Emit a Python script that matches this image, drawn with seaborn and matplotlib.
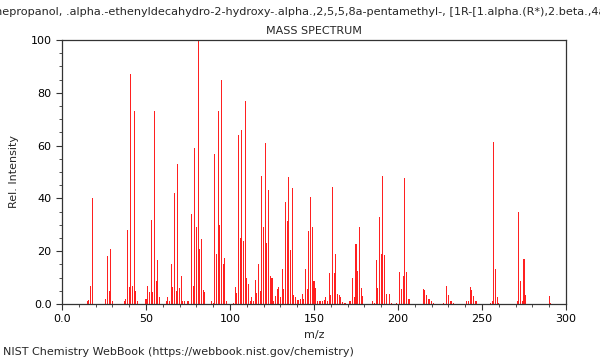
import matplotlib
matplotlib.use("Agg")
import matplotlib.pyplot as plt
from matplotlib.ticker import MultipleLocator
import pandas as pd
import seaborn as sns

# Compound name (title line, runs off both edges like the original)
compound = ("2-Naphthalenepropanol, .alpha.-ethenyldecahydro-2-hydroxy-.alpha.,2,5,5,8a-"
            "pentamethyl-, [1R-[1.alpha.(R*),2.beta.,4a.beta.,8a.alpha.]]-")

# Peaks (m/z, relative intensity)
mz = [15, 16, 17, 18,
      26, 27, 28, 29, 30,
      37, 38, 39, 40, 41, 42, 43, 44, 45,
      50, 51, 52, 53, 54, 55, 56, 57, 58,
      62, 63, 64, 65, 66, 67, 68, 69, 70, 71, 72, 73, 75,
      77, 78, 79, 80, 81, 82, 83, 84, 85,
      89, 90, 91, 92, 93, 94, 95, 96, 97, 98,
      102, 103, 104, 105, 106, 107, 108, 109, 110, 111, 112, 113, 114,
      115, 116, 117, 118, 119, 120, 121, 122, 123, 124, 125, 126, 127, 128, 129, 130,
      131, 132, 133, 134, 135, 136, 137, 138, 139, 140, 141, 142, 143, 144,
      145, 146, 147, 148, 149, 150, 151, 152, 153, 154, 155, 156, 157, 158,
      159, 160, 161, 162, 163, 164, 165, 166, 167, 168, 169,
      171, 172, 173, 174, 175, 176, 177, 178, 179,
      185, 186, 187, 188, 189, 190, 191, 192, 193, 195, 196, 199,
      201, 202, 203, 204, 205, 206, 207,
      215, 216, 217, 218, 219, 220, 221,
      227, 229, 230, 231, 232, 233,
      241, 242, 243, 244, 245, 246, 247,
      255, 256, 257, 258, 259, 260,
      271, 272, 273, 274, 275, 276,
      290, 291]
intensity = [1, 1.5, 7, 40,
             2, 18, 5, 21, 1,
             1, 2, 28, 6.6, 87, 7, 73, 5, 1,
             2, 7, 4.5, 32, 4.5, 73, 8.7, 16.7, 2.8,
             1, 2.5, 1, 15, 6.6, 42, 5, 53, 6.2, 10.5, 1, 1, 1,
             34, 7, 59, 29, 100, 21, 24.6, 5.3, 4.7,
             1, 0.5, 57, 19, 73, 30, 85, 15, 17.6, 1,
             0.5, 6.6, 4.3, 64, 25, 66, 24, 77, 9.8, 7.6, 1, 2.8, 1,
             9, 4, 15, 5, 48.6, 29, 61, 23, 43, 10.6, 10, 1, 3, 5.8, 6.6, 2.5,
             13.4, 5.8, 38.6, 31.4, 48, 20.5, 44, 3.3, 2.8, 1.5, 1.5, 2, 3.6, 2,
             13.3, 5.6, 27.8, 40.5, 29.3, 8.7, 6.2, 1, 1, 1, 1, 1.5, 2.8, 1,
             11.7, 3.3, 44.3, 11.7, 19, 3.9, 3.3, 2.5, 0.6, 0.5, 0.5,
             1, 1, 9.7, 2.5, 22.6, 12.6, 29, 6.2, 3,
             1, 0.5, 16.7, 6.2, 33, 19, 48.6, 18.5, 3.9, 3.9, 0.5, 0.5,
             12, 5.6, 10.6, 47.7, 12, 2, 2,
             5.7, 5.3, 3.5, 2, 2, 1, 0.5,
             0.5, 7, 3.5, 1, 1, 0.5,
             1, 1, 6.3, 5.3, 3, 1, 1,
             0.5, 1, 61.4, 13.4, 2.8, 0.5,
             1, 35, 8.7, 1, 17.2, 3.5,
             3, 0.5]

x_ticks = [0, 50, 100, 150, 200, 250, 300]
x_labels = ["0.0", "50", "100", "150", "200", "250", "300"]
y_ticks = [0, 20, 40, 60, 80, 100]
y_labels = ["0.0", "20", "40", "60", "80", "100"]

df = pd.DataFrame({"mz": mz, "intensity": intensity})

sns.set_style("ticks")
plt.rcParams["font.family"] = ["DejaVu Sans"]

fig, ax = plt.subplots(figsize=(6, 3.6), dpi=100)
fig.subplots_adjust(left=62 / 600, right=566 / 600, top=1 - 40 / 360, bottom=1 - 304 / 360)

sns.barplot(data=df, x="mz", y="intensity", native_scale=True, width=0.6,
            color="#ff2020", saturation=1, linewidth=0, errorbar=None, ax=ax)

ax.set_xlim(0, 300)
ax.set_ylim(0, 100)
ax.set_xticks(x_ticks, labels=x_labels)
ax.set_yticks(y_ticks, labels=y_labels)
ax.xaxis.set_minor_locator(MultipleLocator(10))
ax.yaxis.set_minor_locator(MultipleLocator(5))
ax.tick_params(which="major", direction="out", length=4, width=0.8, labelsize=8,
               colors="#333333", labelcolor="black")
ax.tick_params(which="minor", direction="out", length=2, width=0.6, colors="#333333")
for s in ax.spines.values():
    s.set_visible(True)
    s.set_color("#333333")
    s.set_linewidth(0.9)

ax.set_xlabel("m/z", fontsize=8)
ax.set_ylabel("Rel. Intensity", fontsize=8)
ax.yaxis.set_label_coords(-0.086, 0.5)

fig.text(0.5 + 16 / 600, 1 - 12 / 360, compound, ha="center", va="center", fontsize=8.1)
ax.set_title("MASS SPECTRUM", fontsize=8, pad=4)
fig.text(3 / 600, 1 - 352 / 360, "NIST Chemistry WebBook (https://webbook.nist.gov/chemistry)",
         ha="left", va="center", fontsize=8)

fig.savefig("out.png", dpi=100)
